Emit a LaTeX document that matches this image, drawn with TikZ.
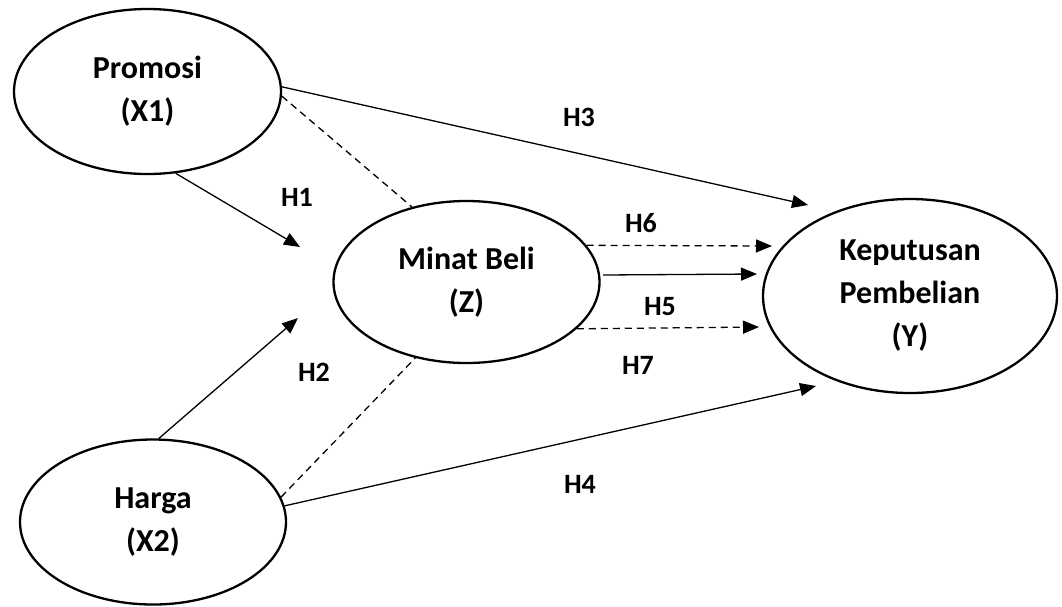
\documentclass[tikz,border=0pt]{standalone}
\usepackage{fontspec}
\setmainfont{Carlito}
\usetikzlibrary{shapes.geometric,arrows.meta}
\begin{document}
\begin{tikzpicture}[x=1pt,y=-1pt,
  construct/.style={draw,ellipse,line width=2.3pt,inner sep=0pt,align=center,
    font=\fontsize{32}{43}\selectfont\bfseries},
  path/.style={line width=1.3pt,-{Triangle[length=16pt,width=13pt]}},
  link/.style={line width=1.3pt,dash pattern=on 7pt off 5pt},
  dlink/.style={link,-{Triangle[length=16pt,width=13pt]}},
  hyp/.style={font=\fontsize{28}{30}\selectfont\bfseries,inner sep=0pt}]
\useasboundingbox (0,0) rectangle (1062,606);

% latent constructs
\node[construct,minimum width=267pt,minimum height=165pt] (pro) at (147.5,91.5) {Promosi\\(X1)};
\node[construct,minimum width=266pt,minimum height=165pt] (har) at (153,522) {Harga\\(X2)};
\node[construct,minimum width=266pt,minimum height=162pt] (min) at (466.5,282) {Minat Beli\\(Z)};
\node[construct,minimum width=294pt,minimum height=194pt] (kep) at (910,296) {Keputusan\\Pembelian\\(Y)};

% free arrow ends
\coordinate (t1) at (300,247);
\coordinate (t2) at (298,318);
\coordinate (t3) at (808,205);
\coordinate (t4) at (816,386);
\coordinate (t5) at (757,274);
\coordinate (t6) at (772,246);
\coordinate (t7) at (759,327);

% structural paths
\draw[path] (pro.-71.8) -- (t1);
\draw[path] (har.86) -- (t2);
\draw[path] (pro.2) -- (t3);
\draw[path] (har.7.7) -- (t4);
\draw[path] ([xshift=3pt]min.3) -- (t5);
\draw[dlink] (min.17.6) -- (t6);
\draw[dlink] (min.-23.6) -- (t7);

% mediation links
\draw[link] (pro.-2) -- (min.126.4);
\draw[link] (har.11) -- (min.236);

% hypothesis labels
\node[hyp] (h1) at (297,197) {H1};
\node[hyp] (h2) at (314,372) {H2};
\node[hyp] (h3) at (579,117) {H3};
\node[hyp] (h4) at (580,484) {H4};
\node[hyp] (h5) at (660,307) {H5};
\node[hyp] (h6) at (641,223) {H6};
\node[hyp] (h7) at (638,365) {H7};
\end{tikzpicture}
\end{document}
